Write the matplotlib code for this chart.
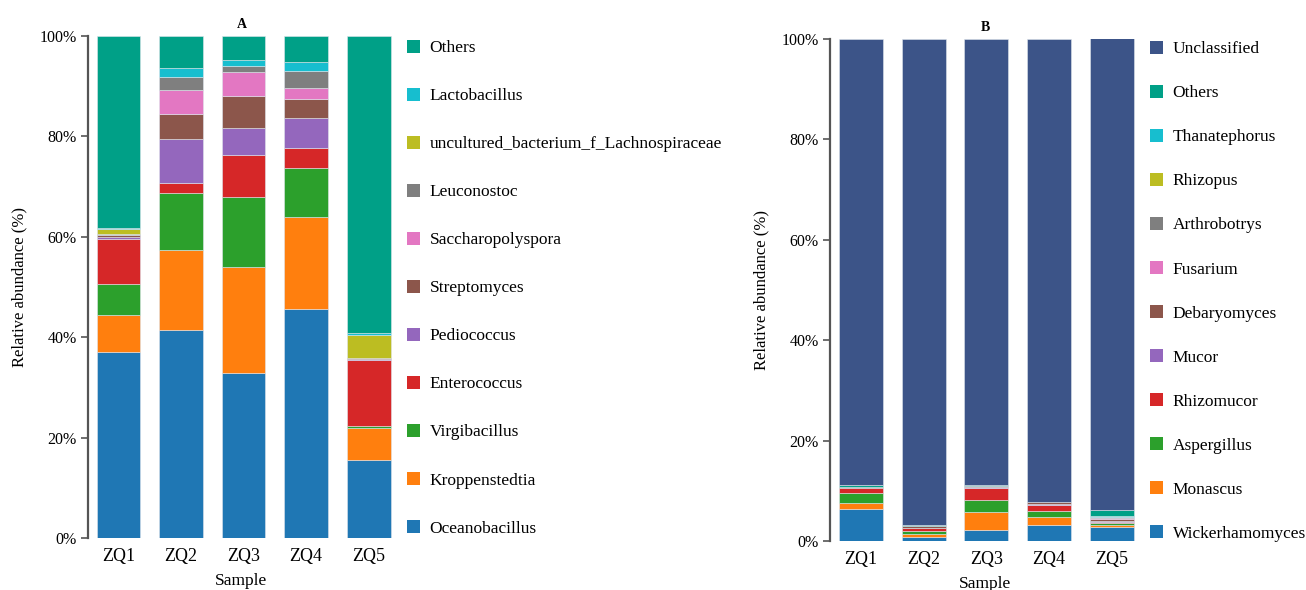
import numpy as np
import matplotlib
matplotlib.use("Agg")
import matplotlib.pyplot as plt
from matplotlib.patches import Patch
from matplotlib.ticker import PercentFormatter

plt.rcParams["font.family"] = ["Liberation Serif", "DejaVu Serif"]

samples = ["ZQ1", "ZQ2", "ZQ3", "ZQ4", "ZQ5"]

# Bacterial genera (bottom to top of each stack), relative abundance in %
bac_taxa = ["Oceanobacillus", "Kroppenstedtia", "Virgibacillus", "Enterococcus",
            "Pediococcus", "Streptomyces", "Saccharopolyspora", "Leuconostoc",
            "uncultured_bacterium_f_Lachnospiraceae", "Lactobacillus", "Others"]
oceanobacillus    = [37.1, 41.4, 32.9, 45.6, 15.5]
kroppenstedtia    = [7.3, 16.0, 21.1, 18.4, 6.4]
virgibacillus     = [6.2, 11.3, 13.9, 9.8, 0.5]
enterococcus      = [9.0, 2.1, 8.4, 3.9, 13.1]
pediococcus       = [0.4, 8.7, 5.3, 5.9, 0.1]
streptomyces      = [0.3, 4.9, 6.4, 3.9, 0.2]
saccharopolyspora = [0.1, 4.9, 4.8, 2.2, 0.0]
leuconostoc       = [0.1, 2.5, 1.2, 3.3, 0.0]
lachnospiraceae   = [1.1, 0.0, 0.0, 0.0, 4.6]
lactobacillus     = [0.2, 1.9, 1.2, 1.9, 0.4]
bac_others        = [38.2, 6.3, 4.8, 5.1, 59.2]
bac_values = [oceanobacillus, kroppenstedtia, virgibacillus, enterococcus,
              pediococcus, streptomyces, saccharopolyspora, leuconostoc,
              lachnospiraceae, lactobacillus, bac_others]

# Fungal genera (bottom to top of each stack), relative abundance in %
fun_taxa = ["Wickerhamomyces", "Monascus", "Aspergillus", "Rhizomucor", "Mucor",
            "Debaryomyces", "Fusarium", "Arthrobotrys", "Rhizopus",
            "Thanatephorus", "Others", "Unclassified"]
wickerhamomyces = [6.3, 0.7, 2.1, 3.2, 2.7]
monascus        = [1.3, 0.6, 3.6, 1.6, 0.5]
aspergillus     = [1.9, 0.6, 2.4, 1.1, 0.3]
rhizomucor      = [1.1, 0.6, 2.4, 1.3, 0.3]
mucor           = [0.05, 0.1, 0.25, 0.2, 0.2]
debaryomyces    = [0.15, 0.3, 0.15, 0.4, 0.3]
fusarium        = [0.0, 0.0, 0.0, 0.0, 0.3]
arthrobotrys    = [0.0, 0.0, 0.0, 0.0, 0.1]
rhizopus        = [0.0, 0.0, 0.0, 0.0, 0.1]
thanatephorus   = [0.0, 0.0, 0.0, 0.0, 0.1]
fun_others      = [0.4, 0.3, 0.3, 0.0, 1.3]
unclassified    = [88.8, 96.8, 88.8, 92.2, 94.0]
fun_values = [wickerhamomyces, monascus, aspergillus, rhizomucor, mucor,
              debaryomyces, fusarium, arthrobotrys, rhizopus, thanatephorus,
              fun_others, unclassified]

tab = ["#1f77b4", "#ff7f0e", "#2ca02c", "#d62728", "#9467bd", "#8c564b",
       "#e377c2", "#7f7f7f", "#bcbd22", "#17becf"]
others_color = "#00a087"
unclassified_color = "#3c5488"
bac_colors = tab + [others_color]
fun_colors = tab + [others_color, unclassified_color]

W, H = 1306, 590
fig = plt.figure(figsize=(W / 100, H / 100), dpi=100)
axA = fig.add_axes([88 / W, 52 / H, 307 / W, 502 / H])
axB = fig.add_axes([830 / W, 49 / H, 310 / W, 502 / H])

spine_col = "#555555"


def stacked(ax, taxa, values, colors, title, xlim, legend_anchor, spacing):
    x = np.arange(len(samples))
    bottom = np.zeros(len(samples))
    handles = []
    for name, vals, col in zip(taxa, values, colors):
        vals = np.asarray(vals, dtype=float)
        lw = np.where(vals > 0, 0.4, 0.0)
        ax.bar(x, vals, width=0.70, bottom=bottom, color=col,
               edgecolor="#dfe5ec", linewidth=lw)
        bottom += vals
        handles.append(Patch(facecolor=col, edgecolor="none", label=name))
    ax.set_xlim(*xlim)
    ax.set_ylim(0, 100)
    ax.set_xticks(x)
    ax.set_xticklabels(samples, fontsize=13)
    ax.set_yticks(np.arange(0, 101, 20))
    ax.yaxis.set_major_formatter(PercentFormatter(decimals=0))
    ax.tick_params(axis="y", labelsize=11.5, length=5, width=1.2,
                   color=spine_col, pad=3)
    ax.tick_params(axis="x", length=0, pad=7)
    for s in ("top", "right", "bottom"):
        ax.spines[s].set_visible(False)
    ax.spines["left"].set_color(spine_col)
    ax.spines["left"].set_linewidth(1.6)
    ax.set_ylabel("Relative abundance (%)", fontsize=12, labelpad=9)
    ax.set_xlabel("Sample", fontsize=12.5, labelpad=6)
    ax.set_title(title, fontsize=10, fontweight="bold", pad=6)
    ax.legend(handles=handles[::-1], loc="upper left",
              bbox_to_anchor=legend_anchor, bbox_transform=fig.transFigure,
              frameon=False, fontsize=12.5, handlelength=0.75,
              handleheight=0.75, handletextpad=0.55, labelspacing=spacing,
              borderaxespad=0, borderpad=0)


stacked(axA, bac_taxa, bac_values, bac_colors, "A", (-0.487, 4.42),
        (407 / W, 1 - 40 / H), 1.82)
stacked(axB, fun_taxa, fun_values, fun_colors, "B", (-0.494, 4.45),
        (1150 / W, 1 - 41 / H), 1.59)

fig.savefig("out.png", dpi=100)
